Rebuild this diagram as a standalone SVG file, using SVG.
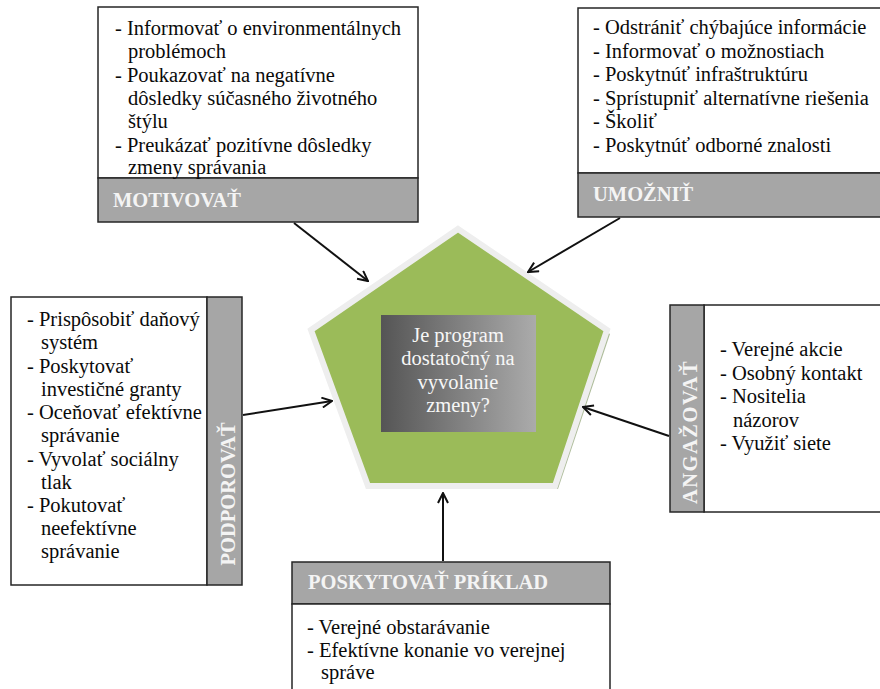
<svg xmlns="http://www.w3.org/2000/svg" width="880" height="689" viewBox="0 0 880 689">
<defs>
<style>
.box{fill:#fff;stroke:#262626;stroke-width:1.5}
.hdr{fill:#a6a6a6;stroke:#262626;stroke-width:1.5}
text{font-family:'Liberation Serif','Times New Roman','DejaVu Serif',serif}
.t{font-size:20.5px;fill:#0a0a0a}
.h{font-size:20.5px;font-weight:bold;fill:#f4f4f4}
.c{font-size:20.5px;fill:#f7f7f7;text-anchor:middle}
.con{stroke:#111;stroke-width:2;fill:none;marker-end:url(#arr)}
</style>
<marker id="arr" viewBox="0 0 12 12" refX="11" refY="6" markerWidth="12" markerHeight="12" markerUnits="userSpaceOnUse" orient="auto">
<path d="M1,1 L11,6 L1,11" fill="none" stroke="#111" stroke-width="2"/>
</marker>
<linearGradient id="gg" x1="0" y1="0" x2="1" y2="0">
<stop offset="0" stop-color="#555"/>
<stop offset="1" stop-color="#ababab"/>
</linearGradient>
</defs>

<g id="center">
<polygon points="461,234 610,334 558,489 371,489 315,334" fill="#8a9f6e" opacity="0.7"/>
<polygon points="458,229 607,330 555,486 368,486 311,330" fill="#9bbb59" stroke="#eeeeee" stroke-width="6" stroke-linejoin="miter"/>
<rect x="381" y="315" width="155" height="117" fill="url(#gg)"/>
<text class="c" x="458" y="342">Je program</text>
<text class="c" x="458" y="365">dostatočný na</text>
<text class="c" x="458" y="389">vyvolanie</text>
<text class="c" x="458" y="412">zmeny?</text>
</g>

<g id="motivovat">
<rect class="box" x="98" y="7" width="320" height="171"/>
<rect class="hdr" x="98" y="178" width="320" height="44"/>
<text class="t" x="115" y="35">- Informovať o environmentálnych</text>
<text class="t" x="128" y="58">problémoch</text>
<text class="t" x="115" y="82">- Poukazovať na negatívne</text>
<text class="t" x="128" y="105">dôsledky súčasného životného</text>
<text class="t" x="128" y="128">štýlu</text>
<text class="t" x="115" y="152">- Preukázať pozitívne dôsledky</text>
<text class="t" x="128" y="174">zmeny správania</text>
<text class="h" x="113" y="207">MOTIVOVAŤ</text>
</g>

<g id="umoznit">
<rect class="box" x="578" y="8" width="310" height="165"/>
<rect class="hdr" x="578" y="173" width="310" height="44"/>
<text class="t" x="593" y="34">- Odstrániť chýbajúce informácie</text>
<text class="t" x="593" y="58">- Informovať o možnostiach</text>
<text class="t" x="593" y="81">- Poskytnúť infraštruktúru</text>
<text class="t" x="593" y="105">- Sprístupniť alternatívne riešenia</text>
<text class="t" x="593" y="128">- Školiť</text>
<text class="t" x="593" y="152">- Poskytnúť odborné znalosti</text>
<text class="h" x="593" y="201">UMOŽNIŤ</text>
</g>

<g id="podporovat">
<rect class="box" x="11" y="297" width="196" height="288"/>
<rect class="hdr" x="207" y="297" width="35" height="288"/>
<text class="t" x="27" y="326">- Prispôsobiť daňový</text>
<text class="t" x="41" y="349">systém</text>
<text class="t" x="27" y="373">- Poskytovať</text>
<text class="t" x="41" y="396">investičné granty</text>
<text class="t" x="27" y="419">- Oceňovať efektívne</text>
<text class="t" x="41" y="442">správanie</text>
<text class="t" x="27" y="466">- Vyvolať  sociálny</text>
<text class="t" x="41" y="489">tlak</text>
<text class="t" x="27" y="512">- Pokutovať</text>
<text class="t" x="41" y="535">neefektívne</text>
<text class="t" x="41" y="558">správanie</text>
<text class="h" transform="translate(235,494) rotate(-90)" text-anchor="middle">PODPOROVAŤ</text>
</g>

<g id="angazovat">
<rect class="box" x="704" y="305" width="190" height="207"/>
<rect class="hdr" x="670" y="305" width="34" height="207"/>
<text class="t" x="720" y="356">- Verejné akcie</text>
<text class="t" x="720" y="380">- Osobný kontakt</text>
<text class="t" x="720" y="403">- Nositelia</text>
<text class="t" x="733" y="427">názorov</text>
<text class="t" x="720" y="450">- Využiť siete</text>
<text class="h" transform="translate(697,432) rotate(-90)" text-anchor="middle" letter-spacing="1.5">ANGAŽOVAŤ</text>
</g>

<g id="priklad">
<rect class="hdr" x="292" y="562" width="318" height="42"/>
<rect class="box" x="292" y="604" width="318" height="100"/>
<text class="h" x="308" y="589">POSKYTOVAŤ PRÍKLAD</text>
<text class="t" x="307" y="634">- Verejné obstarávanie</text>
<text class="t" x="307" y="657">- Efektívne konanie vo verejnej</text>
<text class="t" x="321" y="679">správe</text>
</g>

<g id="connectors">
<line class="con" x1="294" y1="223" x2="368" y2="281"/>
<line class="con" x1="620" y1="218" x2="528" y2="272"/>
<line class="con" x1="243" y1="415" x2="332" y2="401"/>
<line class="con" x1="669" y1="436" x2="583" y2="407"/>
<line class="con" x1="443" y1="561" x2="443" y2="493"/>
</g>
</svg>
